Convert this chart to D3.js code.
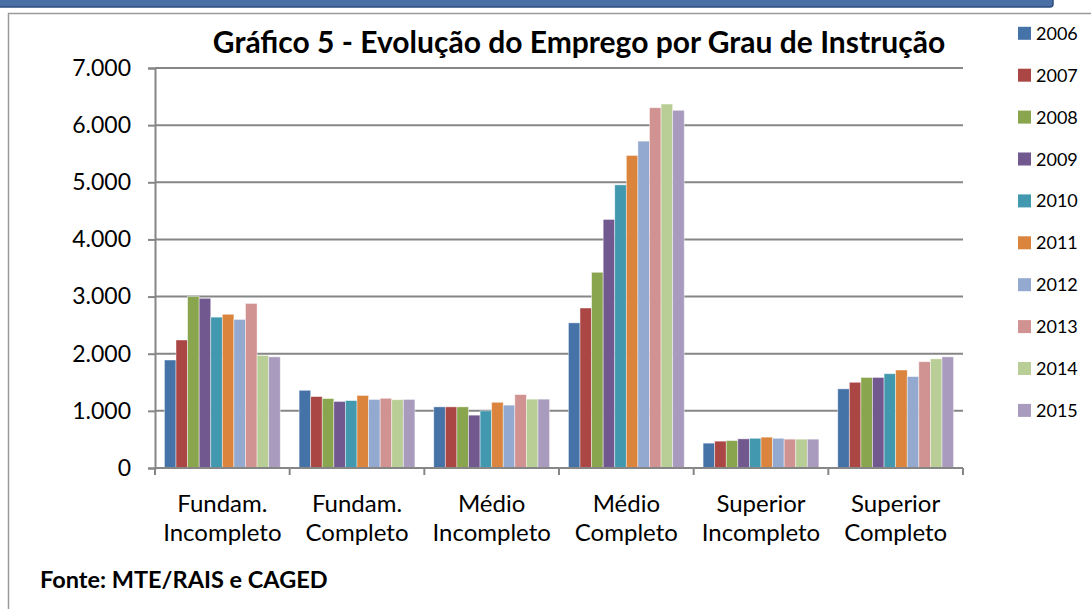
<!DOCTYPE html>
<html>
<head>
<meta charset="utf-8">
<script src="https://cdn.jsdelivr.net/npm/d3@7"></script>
<style>
  body { margin: 0; background: #fff; }
  text { font-family: Lato, "Noto Sans", sans-serif; fill: #000; }
</style>
</head>
<body>
<div id="chart"></div>
<script>
// Gráfico 5 - employment by education level, bars per year

const categories = [
  ["Fundam.", "Incompleto"],
  ["Fundam.", "Completo"],
  ["Médio", "Incompleto"],
  ["Médio", "Completo"],
  ["Superior", "Incompleto"],
  ["Superior", "Completo"]
];
const years = ["2006", "2007", "2008", "2009", "2010", "2011", "2012", "2013", "2014", "2015"];

const fundIncompleto     = [1890, 2240, 3000, 2970, 2640, 2690, 2600, 2880, 1970, 1945];
const fundCompleto       = [1360, 1250, 1215, 1165, 1180, 1270, 1200, 1220, 1195, 1200];
const medioIncompleto    = [1070, 1070, 1070, 925, 1000, 1150, 1100, 1285, 1205, 1205];
const medioCompleto      = [2540, 2800, 3425, 4350, 4955, 5470, 5720, 6305, 6370, 6260];
const superiorIncompleto = [435, 470, 480, 510, 520, 540, 520, 505, 505, 505];
const superiorCompleto   = [1385, 1500, 1585, 1585, 1650, 1715, 1600, 1860, 1910, 1945];

const yTicks = [0, 1000, 2000, 3000, 4000, 5000, 6000, 7000];
const colors = ["#4572A7", "#AA4643", "#89A54E", "#71588F", "#4198AF",
                "#DB843D", "#93A9CF", "#D19392", "#B9CD96", "#A99BBD"];

const seriesByCat = [fundIncompleto, fundCompleto, medioIncompleto,
                     medioCompleto, superiorIncompleto, superiorCompleto];

const W = 1091, H = 609;
const plotLeft = 155, plotRight = 963, plotTop = 68, plotBottom = 468;

const svg = d3.select("#chart").append("svg")
  .attr("width", W)
  .attr("height", H);

// blue banner at the top of the page
svg.append("rect")
  .attr("x", -6).attr("y", -6)
  .attr("width", 1059).attr("height", 13)
  .attr("rx", 3)
  .attr("fill", "#4a6fa5")
  .attr("stroke", "#2d4d80")
  .attr("stroke-width", 1.5);

// frame
svg.append("path")
  .attr("d", `M8.5,${H} L8.5,13.5 L${W},13.5`)
  .attr("fill", "none")
  .attr("stroke", "#9a9a9a")
  .attr("stroke-width", 1.5);

const pt = d3.formatLocale({ decimal: ",", thousands: ".", grouping: [3], currency: ["R$", ""] });
const fmt = pt.format(",d");

const x0 = d3.scaleBand()
  .domain(categories.map(c => c.join(" ")))
  .range([plotLeft, plotRight]);

const pad = x0.bandwidth() * 0.07;
const x1 = d3.scaleBand()
  .domain(years)
  .range([pad, x0.bandwidth() - pad]);

const y = d3.scaleLinear()
  .domain([0, 7000])
  .range([plotBottom, plotTop]);

// gridlines
svg.append("g")
  .selectAll("line")
  .data(yTicks.slice(1))
  .enter().append("line")
  .attr("x1", plotLeft).attr("x2", plotRight)
  .attr("y1", d => y(d)).attr("y2", d => y(d))
  .attr("stroke", "#868686")
  .attr("stroke-width", 2);

// bars
const groups = svg.append("g")
  .selectAll("g")
  .data(categories)
  .enter().append("g")
  .attr("transform", c => `translate(${x0(c.join(" "))},0)`);

groups.selectAll("rect")
  .data((c, i) => seriesByCat[i].map((v, j) => ({ year: years[j], value: v, color: colors[j] })))
  .enter().append("rect")
  .attr("x", d => x1(d.year))
  .attr("y", d => y(d.value))
  .attr("width", x1.bandwidth())
  .attr("height", d => plotBottom - y(d.value))
  .attr("fill", d => d.color)
  .attr("stroke", "rgba(255,255,255,0.55)")
  .attr("stroke-width", 0.8);

// y axis
const yAxis = svg.append("g")
  .attr("transform", `translate(${plotLeft},0)`)
  .call(d3.axisLeft(y).tickValues(yTicks).tickFormat(fmt).tickSize(7).tickPadding(17));
yAxis.select(".domain").attr("stroke", "#868686").attr("stroke-width", 2);
yAxis.selectAll(".tick line").attr("stroke", "#868686").attr("stroke-width", 2);
yAxis.selectAll(".tick text")
  .attr("font-size", 23)
  .style("font-family", "Lato, sans-serif");

// x axis
const xAxis = svg.append("g")
  .attr("transform", `translate(0,${plotBottom})`);
xAxis.append("line")
  .attr("x1", plotLeft).attr("x2", plotRight)
  .attr("stroke", "#868686").attr("stroke-width", 2);
xAxis.selectAll(".sep")
  .data(d3.range(categories.length + 1))
  .enter().append("line")
  .attr("x1", i => plotLeft + i * x0.step())
  .attr("x2", i => plotLeft + i * x0.step())
  .attr("y1", 0).attr("y2", 7)
  .attr("stroke", "#868686").attr("stroke-width", 2);

const xl = svg.append("g")
  .selectAll("text")
  .data(categories)
  .enter().append("text")
  .attr("text-anchor", "middle")
  .attr("font-size", 24)
  .attr("x", c => x0(c.join(" ")) + x0.bandwidth() / 2);
xl.append("tspan")
  .attr("x", c => x0(c.join(" ")) + x0.bandwidth() / 2)
  .attr("y", 512)
  .text(c => c[0]);
xl.append("tspan")
  .attr("x", c => x0(c.join(" ")) + x0.bandwidth() / 2)
  .attr("y", 541)
  .text(c => c[1]);

// title
svg.append("text")
  .attr("x", 579)
  .attr("y", 53)
  .attr("text-anchor", "middle")
  .attr("font-size", 30)
  .attr("font-weight", "bold")
  .text("Gráfico 5 - Evolução do Emprego por Grau de Instrução");

// legend
const legend = svg.append("g")
  .selectAll("g")
  .data(years)
  .enter().append("g")
  .attr("transform", (d, i) => `translate(1018,${33.3 + i * 41.9})`);
legend.append("rect")
  .attr("x", 0).attr("y", -6.5)
  .attr("width", 13).attr("height", 13)
  .attr("fill", (d, i) => colors[i]);
legend.append("text")
  .attr("x", 18)
  .attr("y", 6.5)
  .attr("font-size", 18)
  .text(d => d);

// source
svg.append("text")
  .attr("x", 40)
  .attr("y", 588)
  .attr("font-size", 23.5)
  .attr("font-weight", "bold")
  .text("Fonte: MTE/RAIS e CAGED");
</script>
</body>
</html>
